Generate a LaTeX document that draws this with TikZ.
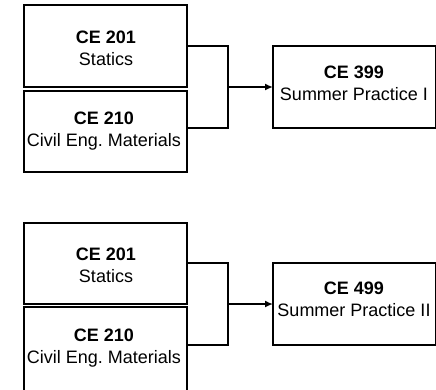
\documentclass[tikz,border=0pt]{standalone}
\usepackage{fontspec}
\setmainfont{Liberation Sans}
\usetikzlibrary{arrows.meta}
\frenchspacing
\begin{document}
\begin{tikzpicture}[x=1pt,y=-1pt,
  box/.style={draw=black,line width=1.6pt,minimum width=163pt,inner sep=0pt,outer sep=0pt},
  lbl/.style={align=center,font=\fontsize{18}{22}\selectfont,inner sep=0pt},
  conn/.style={draw=black,line width=1.6pt},
  arr/.style={conn,-{Latex[length=8pt,width=7pt]}}]
\useasboundingbox (0,0) rectangle (436,389);
% top group
\node[box,minimum height=82pt] (a1) at (105.5,46) {};
\node[box,minimum height=81pt] (a2) at (105.5,131.5) {};
\node[box,minimum height=82pt] (b) at (354.5,87) {};
\node[lbl] (a1t) at (106,48) {\textbf{CE 201}\\Statics};
\node[lbl] (a2t) at (104,131) {\textbf{CE 210}\\Civil Eng. Materials};
\node[lbl] (bt) at (354,83) {\textbf{CE 399}\\Summer Practice I};
\coordinate (j) at (228,87);
\draw[conn] (a1.east |- b.north) -- (j |- b.north) -- (j |- b.south) -- (a2.east |- b.south);
\draw[arr] (j |- b.west) -- (b.west);
% bottom group
\node[box,minimum height=81pt] (c1) at (105.5,263.5) {};
\node[box,minimum height=90pt] (c2) at (105.5,352) {};
\node[box,minimum height=82pt] (d) at (354.5,304) {};
\node[lbl] (c1t) at (106,265) {\textbf{CE 201}\\Statics};
\node[lbl] (c2t) at (104,348) {\textbf{CE 210}\\Civil Eng. Materials};
\node[lbl] (dt) at (354,299) {\textbf{CE 499}\\Summer Practice II};
\coordinate (k) at (228,304);
\draw[conn] (c1.east |- d.north) -- (k |- d.north) -- (k |- d.south) -- (c2.east |- d.south);
\draw[arr] (k |- d.west) -- (d.west);
\end{tikzpicture}
\end{document}
